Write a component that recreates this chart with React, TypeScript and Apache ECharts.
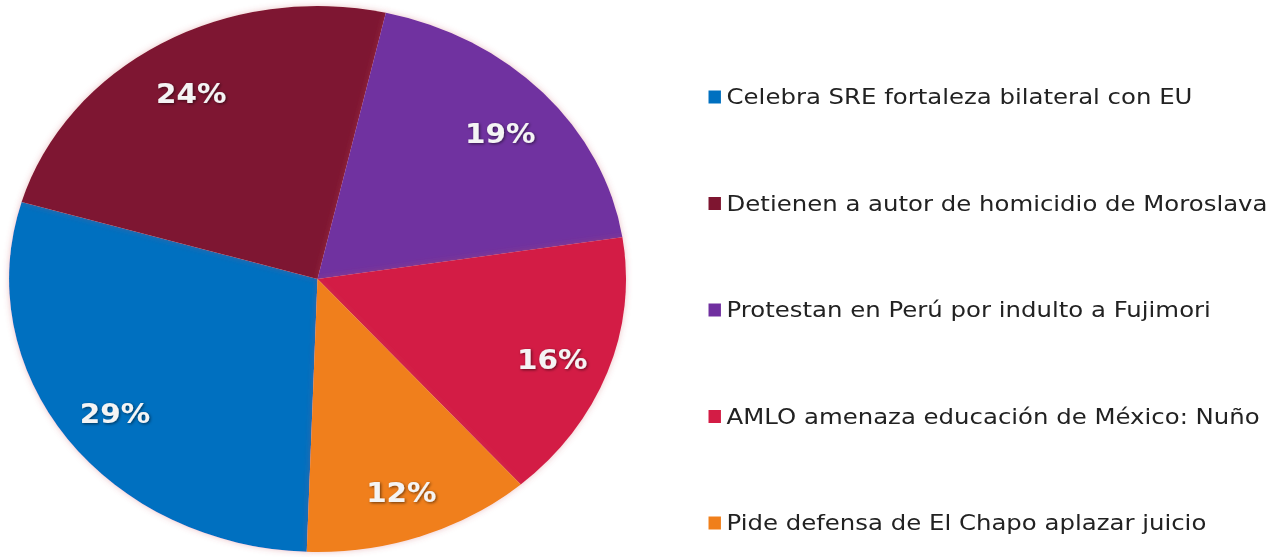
import React, { useEffect, useRef } from "react";
import * as echarts from "echarts";

const categories = [
  "Celebra SRE fortaleza bilateral con EU",
  "Detienen a autor de homicidio de Moroslava",
  "Protestan en Perú por indulto a Fujimori",
  "AMLO amenaza educación de México: Nuño",
  "Pide defensa de El Chapo aplazar juicio",
];
const values = [29, 24, 19, 16, 12];
const colors = ["#0070C0", "#7E1530", "#7030A0", "#D31C45", "#F07F1B"];

const SX = 1.13;
const W = 1269;
const H = 557;

export default function App() {
  const ref = useRef<HTMLDivElement>(null);
  useEffect(() => {
    if (!ref.current) return;
    const chart = echarts.init(ref.current, null, { renderer: "svg" });
    const data = categories.map((name, i) => ({
      name,
      value: values[i],
      itemStyle: { color: colors[i] },
    }));
    const labelData = categories.map((name, i) => ({
      name,
      value: values[i],
    }));
    chart.setOption({
      animation: false,
      backgroundColor: "#ffffff",
      color: colors,
      legend: {
        orient: "vertical",
        left: 622,
        top: 80,
        itemGap: 82.5,
        itemWidth: 11,
        itemHeight: 13,
        icon: "rect",
        data: categories,
        selectedMode: false,
        textStyle: {
          fontFamily: "DejaVu Sans",
          fontSize: 21.6,
          lineHeight: 24,
          color: "#222222",
        },
      },
      series: [
        {
          type: "pie",
          center: [281, 279],
          radius: [0, 273],
          startAngle: 268,
          clockwise: true,
          label: { show: false },
          labelLine: { show: false },
          silent: true,
          itemStyle: {
            shadowBlur: 6,
            shadowColor: "rgba(200,80,90,0.35)",
          },
          data,
        },
        {
          type: "pie",
          center: [281, 279],
          radius: [163, 273],
          startAngle: 268,
          clockwise: true,
          silent: true,
          itemStyle: { color: "rgba(0,0,0,0)" },
          label: {
            show: true,
            position: "inside",
            offset: [0, 6],
            formatter: (p: any) => `${p.value}%`,
            fontFamily: "DejaVu Sans",
            fontWeight: "bold",
            fontSize: 26,
            color: "#F4F4F4",
            textShadowColor: "rgba(0,0,0,0.55)",
            textShadowBlur: 3,
            textShadowOffsetX: 1,
            textShadowOffsetY: 1,
          },
          labelLine: { show: false },
          data: labelData,
        },
      ],
    });
    return () => chart.dispose();
  }, []);
  return (
    <div
      style={{
        position: "fixed",
        left: 0,
        top: 0,
        width: W,
        height: H,
        overflow: "hidden",
        background: "#fff",
      }}
    >
      <div
        ref={ref}
        style={{
          width: Math.round(W / SX),
          height: H,
          transform: `scaleX(${SX})`,
          transformOrigin: "0 0",
        }}
      />
    </div>
  );
}
